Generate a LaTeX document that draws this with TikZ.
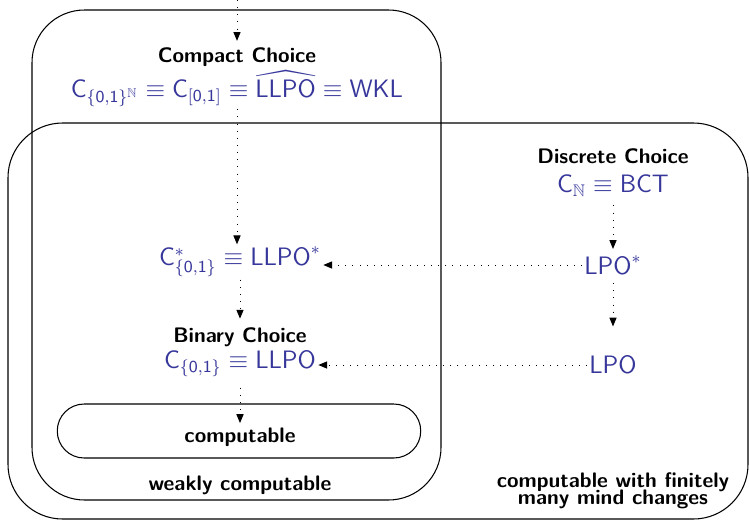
\documentclass[tikz,border=0pt]{standalone}
\usepackage{amsmath,amssymb}
\definecolor{wblue}{RGB}{55,55,155}
\renewcommand{\familydefault}{\sfdefault}
\usetikzlibrary{arrows.meta, positioning}

\begin{document}
\begin{tikzpicture}[x=0.476pt, y=-0.476pt,
      title/.style={font=\sffamily\bfseries, inner sep=1pt},
      formula/.style={text=wblue, font=\large, inner sep=1pt},
      region/.style={draw, line width=0.5pt},
      compbox/.style={draw, line width=0.5pt, rounded corners=12.8pt,
                      minimum width=173pt, minimum height=25.7pt},
      reduc/.style={-{Triangle[length=4.2pt,width=3.4pt]},
                    dash pattern=on 0.4pt off 3pt, line width=0.4pt}]

    \useasboundingbox (0,0) rectangle (749,521);

    % ── Regions ──
    \draw[region, rounded corners=26pt] (8,123) rectangle (748,519);
    \draw[region, rounded corners=25pt] (32,10) rectangle (441,500);
    \node[compbox] (compbox) at (239,431) {};

    % ── Compact Choice ──
    \coordinate (top) at (237,0);
    \node[title] (cctitle) at (237,57) {Compact Choice};
    \node[formula] (ccform) at (237,89)
      {$\mathsf{C}_{\{\mathsf{0,1}\}^{\mathbb{N}}}\equiv\mathsf{C}_{[\mathsf{0,1}]}
        \equiv\widehat{\mathsf{LLPO}}\equiv\mathsf{WKL}$};

    % ── Binary Choice ──
    \node[formula] (cstar) at (240,262)
      {$\mathsf{C}^{*}_{\{\mathsf{0,1}\}}\equiv\mathsf{LLPO}^{*}$};
    \node[title] (bctitle) at (240,337) {Binary Choice};
    \node[formula] (bcform) at (240,364)
      {$\mathsf{C}_{\{\mathsf{0,1}\}}\equiv\mathsf{LLPO}$};
    \node[title] (comp) at (240,437) {computable};

    % ── Discrete Choice ──
    \node[title] (dctitle) at (613,156) {Discrete Choice};
    \node[formula] (dcform) at (613,186)
      {$\mathsf{C}_{\mathbb{N}}\equiv\mathsf{BCT}$};
    \node[formula] (lpostar) at (613,265) {$\mathsf{LPO}^{*}$};
    \node[formula] (lpo) at (613,365) {$\mathsf{LPO}$};

    % ── Region labels ──
    \node[title] (weak) at (240,485) {weakly computable};
    \node[title, align=center] (finite) at (613,491)
      {computable with finitely\\[-4pt]many mind changes};

    % ── Reductions ──
    \draw[reduc, shorten >=2pt] (top) -- (cctitle);
    \draw[reduc] (ccform) -- (ccform |- cstar.north);
    \draw[reduc, shorten >=3pt] (cstar.south -| bctitle) -- (bctitle);
    \draw[reduc, shorten <=4pt, shorten >=1pt] (bcform) -- (comp);
    \draw[reduc, shorten <=3pt, shorten >=2pt] (dcform) -- (lpostar);
    \draw[reduc, shorten <=3pt, shorten >=13pt] (lpostar) -- (lpo);
    \draw[reduc] (lpostar) -- (lpostar -| cstar.east);
    \draw[reduc] (lpo) -- (lpo -| bcform.east);

  \end{tikzpicture}
\end{document}
